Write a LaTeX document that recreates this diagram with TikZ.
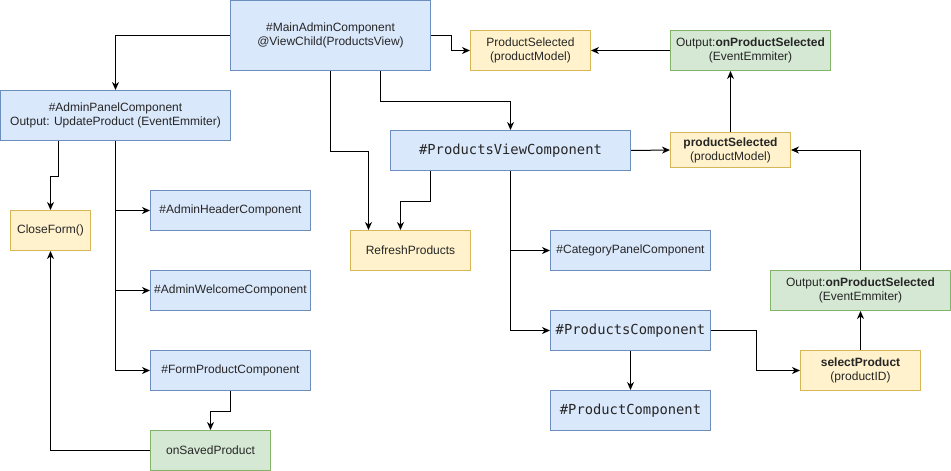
\documentclass[tikz,border=0pt]{standalone}
\usepackage{fontspec}
\setmainfont{Liberation Sans}
\newfontfamily\monofont{DejaVu Sans Mono}
\usetikzlibrary{arrows.meta}
\definecolor{bfill}{HTML}{DAE8FC}\definecolor{bline}{HTML}{6C8EBF}
\definecolor{yfill}{HTML}{FFF2CC}\definecolor{yline}{HTML}{D6B656}
\definecolor{gfill}{HTML}{D5E8D4}\definecolor{gline}{HTML}{82B366}
\tikzset{
  box/.style={draw, line width=1pt, inner sep=0pt, align=center, anchor=north west,
    font=\fontsize{12}{14}\selectfont, text=black!85},
  bluebox/.style={box, fill=bfill, draw=bline},
  yellowbox/.style={box, fill=yfill, draw=yline},
  greenbox/.style={box, fill=gfill, draw=gline},
  mono/.style={font=\monofont\fontsize{13.8}{16}\selectfont},
  arr/.style={draw=black, line width=1pt, -{Stealth[length=8pt,width=7pt,inset=2.5pt]}},
}
\begin{document}
\begin{tikzpicture}[x=1pt,y=-1pt]
\useasboundingbox (0,0) rectangle (951,471);
% nodes
\node[bluebox, minimum width=200, minimum height=70] (main) at (230,0) {\#MainAdminComponent\\@ViewChild(ProductsView)};
\node[yellowbox, minimum width=120, minimum height=40] (prodsel) at (470,30) {ProductSelected\\(productModel)};
\node[greenbox, minimum width=160, minimum height=40] (outtop) at (670,30) {Output:\textbf{onProductSelected}\\(EventEmmiter)};
\node[bluebox, minimum width=230, minimum height=50] (admin) at (0,90) {\#AdminPanelComponent\\Output: UpdateProduct (EventEmmiter)};
\node[bluebox, mono, minimum width=240, minimum height=40] (pview) at (390,130) {\#ProductsViewComponent};
\node[yellowbox, minimum width=120, minimum height=35] (psel) at (670,132) {\textbf{productSelected}\\(productModel)};
\node[yellowbox, minimum width=80, minimum height=40] (close) at (10,210) {CloseForm()};
\node[bluebox, minimum width=160, minimum height=40] (header) at (150,190) {\#AdminHeaderComponent};
\node[yellowbox, minimum width=120, minimum height=40] (refresh) at (350,230) {RefreshProducts};
\node[bluebox, minimum width=160, minimum height=40] (cat) at (550,230) {\#CategoryPanelComponent};
\node[bluebox, minimum width=160, minimum height=40] (welcome) at (150,270) {\#AdminWelcomeComponent};
\node[greenbox, minimum width=180, minimum height=40] (outlow) at (770,270) {Output:\textbf{onProductSelected}\\(EventEmmiter)};
\node[bluebox, mono, minimum width=160, minimum height=40] (pcomp) at (550,310) {\#ProductsComponent};
\node[bluebox, minimum width=160, minimum height=40] (form) at (150,350) {\#FormProductComponent};
\node[yellowbox, minimum width=120, minimum height=40] (selprod) at (800,350) {\textbf{selectProduct}\\(productID)};
\node[bluebox, mono, minimum width=160, minimum height=40] (prodcomp) at (550,390) {\#ProductComponent};
\node[greenbox, minimum width=120, minimum height=40] (saved) at (150,430) {onSavedProduct};
% connectors
\draw[arr] (main.west) -| (admin.north);
\draw[arr] (main.east) -- ++(20,0) |- (prodsel.west);
\draw[arr] (outtop.west) -- (prodsel.east);
\draw[arr] ([xshift=50]main.south) -- ++(0,30) -| (pview.north);
\draw[arr] (main.south) -- ++(0,80) -| ([xshift=-42]refresh.north);
\draw[arr] ([xshift=-80]pview.south) -- ++(0,30) -| ([xshift=-10]refresh.north);
\draw[arr] (pview.east) -- (psel.west);
\draw[arr] (psel.north) -- (psel.north |- outtop.south);
\draw[arr] (outlow.north) |- (psel.east);
\draw[arr] (pview.south) |- (cat.west);
\draw[arr] (pview.south) |- (pcomp.west);
\draw[arr] (pcomp.east) -- ++(45,0) |- (selprod.west);
\draw[arr] (selprod.north) -- (outlow.south);
\draw[arr] (pcomp.south) -- (prodcomp.north);
\draw[arr] ([xshift=-57]admin.south) -- ++(0,35) -| (close.north);
\draw[arr] (admin.south) |- (header.west);
\draw[arr] (admin.south) |- (welcome.west);
\draw[arr] (admin.south) |- (form.west);
\draw[arr] (form.south) -- ++(0,20) -| (saved.north);
\draw[arr] (saved.west) -| (close.south);
\end{tikzpicture}
\end{document}
